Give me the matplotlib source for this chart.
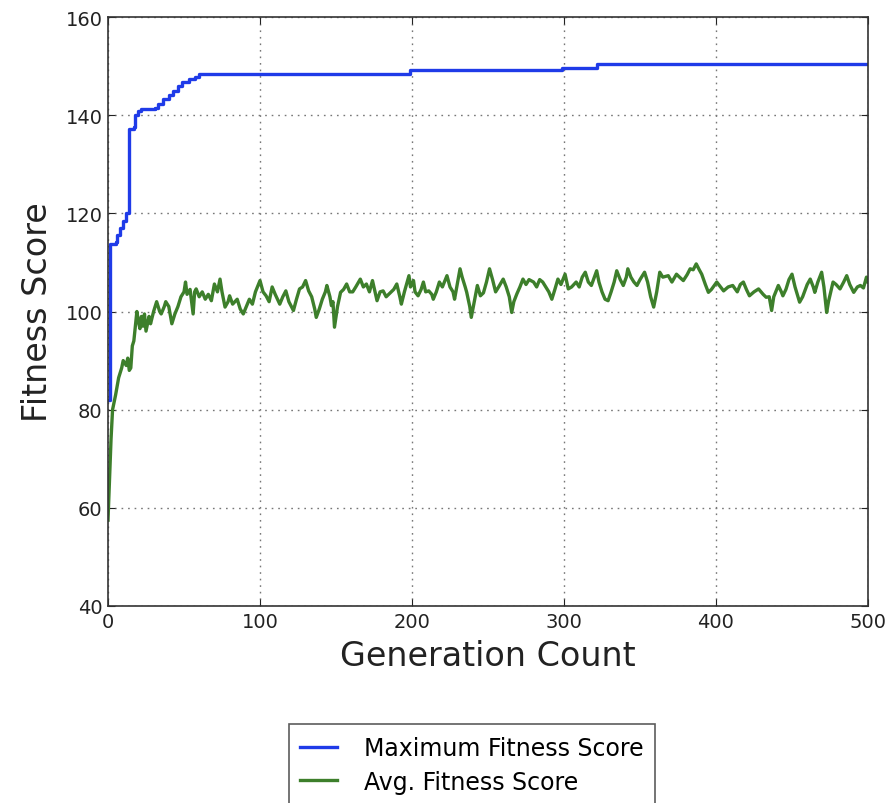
import matplotlib
matplotlib.use("Agg")
import matplotlib.pyplot as plt

# Maximum fitness (step-like, best so far)
max_gen = [0, 1, 5, 6, 8, 10, 12, 14, 17, 18, 20, 22, 31, 33, 36, 40, 43, 46, 49, 53, 57, 60,
           198.7, 298.5, 321.5, 500]
max_val = [82, 113.8, 114.2, 115.5, 117, 118.5, 120, 137.2, 137.6, 140, 140.8, 141.3, 141.5,
           142.3, 143.2, 144.1, 145, 146, 146.7, 147.4, 147.8, 148.4, 149.3, 149.6, 150.5, 150.5]

# Average fitness
avg_gen = [0, 1, 2, 3, 5, 7, 9, 10, 12, 13, 14, 15, 16, 17, 18, 19, 20, 21, 22, 23, 24, 25, 27, 28,
           30, 32, 34, 35, 37, 38, 40, 42, 44, 46, 48, 50, 51, 52, 54, 55, 56, 57, 58, 60, 62, 64,
           66, 68, 70, 72, 73.7, 75, 77, 79, 80, 82, 85, 87, 89, 91, 93, 95, 97, 99, 100, 102, 104,
           106, 108, 110, 113, 115, 117, 119, 122, 124, 126, 128, 130, 132, 134, 136, 137, 139, 141,
           143, 144, 146, 147, 148, 149, 151, 153, 155, 157, 159, 161, 163, 166, 168, 170, 172, 174,
           177, 179, 181, 183, 186, 188, 190, 192, 193, 195, 198, 199, 201, 202, 204, 206, 207.5,
           209, 211, 213, 214, 216, 218, 220, 223, 225, 227, 228, 230, 231.6, 233, 235, 236, 238,
           239, 241, 243, 245, 247, 249, 251, 253, 255, 257, 260, 262, 264, 265.6, 267, 269, 271,
           273, 275, 277, 280, 282, 284, 286, 288, 290, 292, 294, 296, 298, 300.7, 302.8, 305, 308,
           310, 312, 314, 316, 318, 320, 321.5, 323, 325, 327, 329, 331, 333, 334.7, 337, 339, 341,
           342, 344, 346, 348, 350, 353, 355, 357, 359, 361, 363, 365, 368.6, 371, 374, 376, 378.5,
           381, 383, 385, 387, 389, 390.6, 393, 395, 397, 400.5, 403, 405, 408, 411, 414, 416, 418,
           420, 422, 425, 428, 431, 433, 435, 436.6, 438, 441, 443, 444, 446, 448, 450, 452, 455,
           457, 460, 462, 464, 465, 467, 469.5, 471, 472.8, 474, 477, 479, 481.6, 484, 486, 488,
           490.6, 493, 495, 497, 499, 500]
avg_val = [57.5, 66, 74, 80, 83, 86.5, 88.5, 90, 89, 90.5, 88, 88.5, 93, 94, 97, 100, 98, 96.5, 99,
           97, 99.5, 96, 99, 97.5, 100, 102, 100, 99.5, 101, 102, 101, 97.5, 99.5, 101, 103, 104,
           106, 103.5, 104.5, 102, 99.5, 104, 104.6, 103, 104, 102.5, 103.5, 102.2, 105.6, 104,
           106.6, 104, 100.9, 102, 103.2, 101.5, 102.5, 100.5, 99.5, 101, 102.5, 101.5, 104, 105.5,
           106.3, 104, 103.2, 102, 105, 103.5, 101.5, 103, 104.2, 102, 100.2, 102.5, 104.6, 105,
           106.3, 104.2, 103, 100.5, 98.8, 100.5, 102.5, 104, 105.3, 103, 101.2, 102, 96.8, 101,
           103.9, 104.5, 105.6, 104, 104, 105, 106.6, 105, 105.6, 104, 106.3, 102.2, 104, 104.2,
           103, 103.9, 104.5, 105.6, 103, 101.5, 104, 107.3, 105, 106.3, 104, 103.2, 104.5, 106,
           104, 104.2, 103.5, 102.5, 104, 106, 105, 107.3, 105, 104, 102.5, 106, 108.7, 107, 105,
           103.9, 101, 98.8, 102, 105.3, 103.2, 103.8, 106, 108.7, 106.5, 104, 105, 106.6, 105,
           103, 99.8, 102, 103.6, 105, 106.6, 105.5, 106.5, 106, 105, 106.5, 106, 105, 104, 102.5,
           104.5, 106.6, 105.5, 107.6, 104.6, 105, 106, 105, 107, 108, 106, 105.3, 107, 108.3, 106,
           104, 102.5, 102.2, 104, 106, 108.3, 106.5, 105.3, 107, 108.7, 107, 106, 105.3, 106.5,
           108, 106, 103, 100.9, 104, 108, 107, 107.3, 106, 107.6, 107, 106.3, 107.5, 108.7, 108.5,
           109.7, 108.5, 107.6, 105.5, 103.9, 104.5, 106, 105, 104.2, 105, 105.3, 104, 105.5, 106,
           104.5, 103.2, 104, 104.6, 103.5, 102.9, 103, 100.2, 103, 105.3, 104, 103.2, 104.5, 106.5,
           107.6, 105, 101.9, 103, 105.5, 106.6, 105, 103.9, 106, 108, 105, 99.8, 102, 106, 105.5,
           104.6, 106, 107.3, 105.5, 103.9, 105, 105.3, 104.8, 107, 106]

x_ticks = [0, 100, 200, 300, 400, 500]
y_ticks = [40, 60, 80, 100, 120, 140, 160]

fig = plt.figure(figsize=(8.95, 8.04), dpi=100)
ax = fig.add_axes([108 / 895, 1 - 607 / 804, 760 / 895, 589 / 804])

ax.plot(max_gen, max_val, color="#1f3be8", lw=2.4, drawstyle="steps-post",
        label="Maximum Fitness Score")
ax.plot(avg_gen, avg_val, color="#3d7f2b", lw=2.4, label="Avg. Fitness Score")

ax.set_xlim(0, 500)
ax.set_ylim(40, 160)
ax.set_xticks(x_ticks)
ax.set_yticks(y_ticks)
ax.tick_params(direction="in", top=True, right=True, length=5, labelsize=14,
               colors="#222222", pad=4)
ax.grid(True, color="#777777", linestyle=(0, (1.2, 3.5)), linewidth=1)
for s in ax.spines.values():
    s.set_color("#333333")
    s.set_linewidth(1.2)

ax.set_xlabel("Generation Count", fontsize=24, color="#222222", labelpad=6)
ax.set_ylabel("Fitness Score", fontsize=24, color="#222222", labelpad=8)

leg = fig.legend(loc="center", bbox_to_anchor=(472 / 895, 1 - 766 / 804),
                 fontsize=17, frameon=True, fancybox=False, handlelength=1.55,
                 borderpad=0.5, labelspacing=0.4, handletextpad=1.15)
leg.get_frame().set_edgecolor("#333333")
leg.get_frame().set_linewidth(1.2)

fig.savefig("out.png", dpi=100)
